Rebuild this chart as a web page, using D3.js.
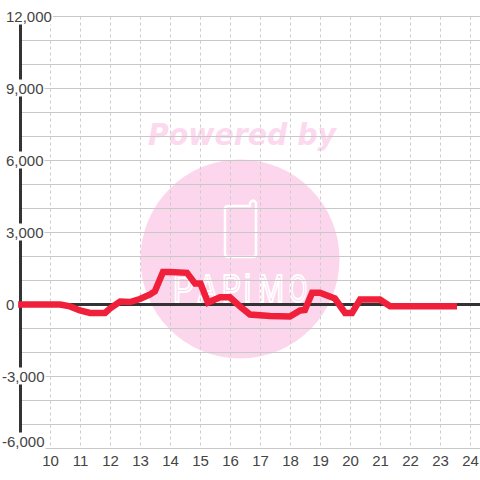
<!DOCTYPE html>
<html>
<head>
<meta charset="utf-8">
<script src="https://cdn.jsdelivr.net/npm/d3@7"></script>
<style>
  html, body { margin: 0; padding: 0; background: #fff; }
  svg { display: block; }
  text { font-family: "Liberation Sans", sans-serif; }
</style>
</head>
<body>
<svg id="chart" width="480" height="480"></svg>
<script>
// values
const hourTicks = [10, 11, 12, 13, 14, 15, 16, 17, 18, 19, 20, 21, 22, 23, 24];
const valueTicks = [12000, 9000, 6000, 3000, 0, -3000, -6000];
const gridValues = [12000, 11000, 10000, 9000, 8000, 7000, 6000, 5000, 4000, 3000, 2000, 1000, 0,
  -1000, -2000, -3000, -4000, -5000, -6000];
const hours = [8.92, 10.32, 10.65, 10.98, 11.32, 11.82, 11.98, 12.32, 12.65, 12.98, 13.32, 13.48, 13.75,
  13.98, 14.55, 14.82, 15, 15.25, 15.65, 15.98, 16.32, 16.65, 17.32, 17.98, 18.32, 18.48, 18.72, 18.98,
  19.48, 19.82, 20.05, 20.32, 20.98, 21.32, 23.55];
const values = [0, 0, -80, -250, -350, -350, -170, 120, 100, 230, 420, 550, 1350,
  1350, 1320, 870, 870, 80, 300, 300, -80, -420, -480, -500, -250, -230, 490, 490,
  250, -350, -350, 210, 210, -70, -70];
const logoLetters = ['P', 'A', 'P', 'i', 'M', 'O'];

const svg = d3.select('#chart');
const x = d3.scaleLinear().domain([9, 25]).range([20.5, 500.5]);
const y = d3.scaleLinear().domain([12000, -6000]).range([16.5, 448.5]);
const logoX = d3.scaleOrdinal().domain([0, 1, 2, 3, 4, 5]).range([173, 198, 222, 244, 258, 289]);
const logoW = d3.scaleOrdinal().domain([0, 1, 2, 3, 4, 5]).range([21, 19, 19, 7, 26, 18]);
const formatTick = d => d3.format(',')(d).replace('\u2212', '-');

// watermark
const mark = svg.append('g');
mark.append('circle').attr('cx', 240).attr('cy', 259).attr('r', 99.5).attr('fill', '#fcd6ec');
mark.append('text')
  .attr('x', 148).attr('y', 145)
  .attr('textLength', 188).attr('lengthAdjust', 'spacingAndGlyphs')
  .attr('font-size', 30).attr('font-weight', 'bold').attr('font-style', 'italic')
  .style('font-family', '"DejaVu Sans", sans-serif')
  .attr('fill', '#fcd9ee')
  .text('Powered by');
mark.append('path')
  .attr('d', 'M228,206 H250 V203 Q253,198 256,203 V254 Q256,257 253,257 H228 Q225,257 225,254 V209 Q225,206 228,206 Z')
  .attr('fill', 'none').attr('stroke', '#fff').attr('stroke-width', 2.5);
mark.append('g').selectAll('text').data(logoLetters).enter().append('text')
  .attr('x', (d, i) => logoX(i)).attr('y', 302)
  .attr('textLength', (d, i) => logoW(i)).attr('lengthAdjust', 'spacingAndGlyphs')
  .attr('font-size', 38)
  .attr('fill', 'none').attr('stroke', '#fff').attr('stroke-width', 2)
  .text(d => d);

// grid
svg.append('g').selectAll('line').data(hourTicks).enter().append('line')
  .attr('x1', d => x(d)).attr('x2', d => x(d))
  .attr('y1', y(12000)).attr('y2', y(-6000))
  .attr('stroke', '#ccc').attr('stroke-dasharray', '3,3');
svg.append('g').selectAll('line').data(gridValues).enter().append('line')
  .attr('x1', x(9)).attr('x2', 480)
  .attr('y1', d => y(d)).attr('y2', d => y(d))
  .attr('stroke', '#c8c8c8');

// axis lines
svg.append('line').attr('x1', x(9)).attr('x2', x(9))
  .attr('y1', y(12000)).attr('y2', y(-6000))
  .attr('stroke', '#333').attr('stroke-width', 3);
svg.append('line').attr('x1', x(9)).attr('x2', 480)
  .attr('y1', y(0)).attr('y2', y(0))
  .attr('stroke', '#333').attr('stroke-width', 3);

// tick labels with a white backing, the lowest one is pushed up to stay clear of the hour labels
const yLabels = svg.append('g').selectAll('text').data(valueTicks).enter().append('text')
  .attr('x', d => d < 0 ? 2 : 6)
  .attr('y', d => y(d) + (d === -6000 ? -2 : 5))
  .attr('font-size', 15).attr('fill', '#444')
  .text(formatTick);
yLabels.each(function () {
  const b = this.getBBox();
  d3.select(this.parentNode).insert('rect', 'text')
    .attr('x', b.x).attr('y', b.y).attr('width', b.width + 1).attr('height', b.height)
    .attr('fill', '#fff');
});
svg.append('g').selectAll('text').data(hourTicks).enter().append('text')
  .attr('x', d => x(d)).attr('y', 466)
  .attr('text-anchor', 'middle')
  .attr('font-size', 15).attr('fill', '#444')
  .text(d => d);

// series
const line = d3.line().x(d => x(d[0])).y(d => y(d[1]));
svg.append('path')
  .datum(d3.zip(hours, values))
  .attr('d', line)
  .attr('fill', 'none')
  .attr('stroke', '#f0203a').attr('stroke-width', 6.5);
</script>
</body>
</html>
